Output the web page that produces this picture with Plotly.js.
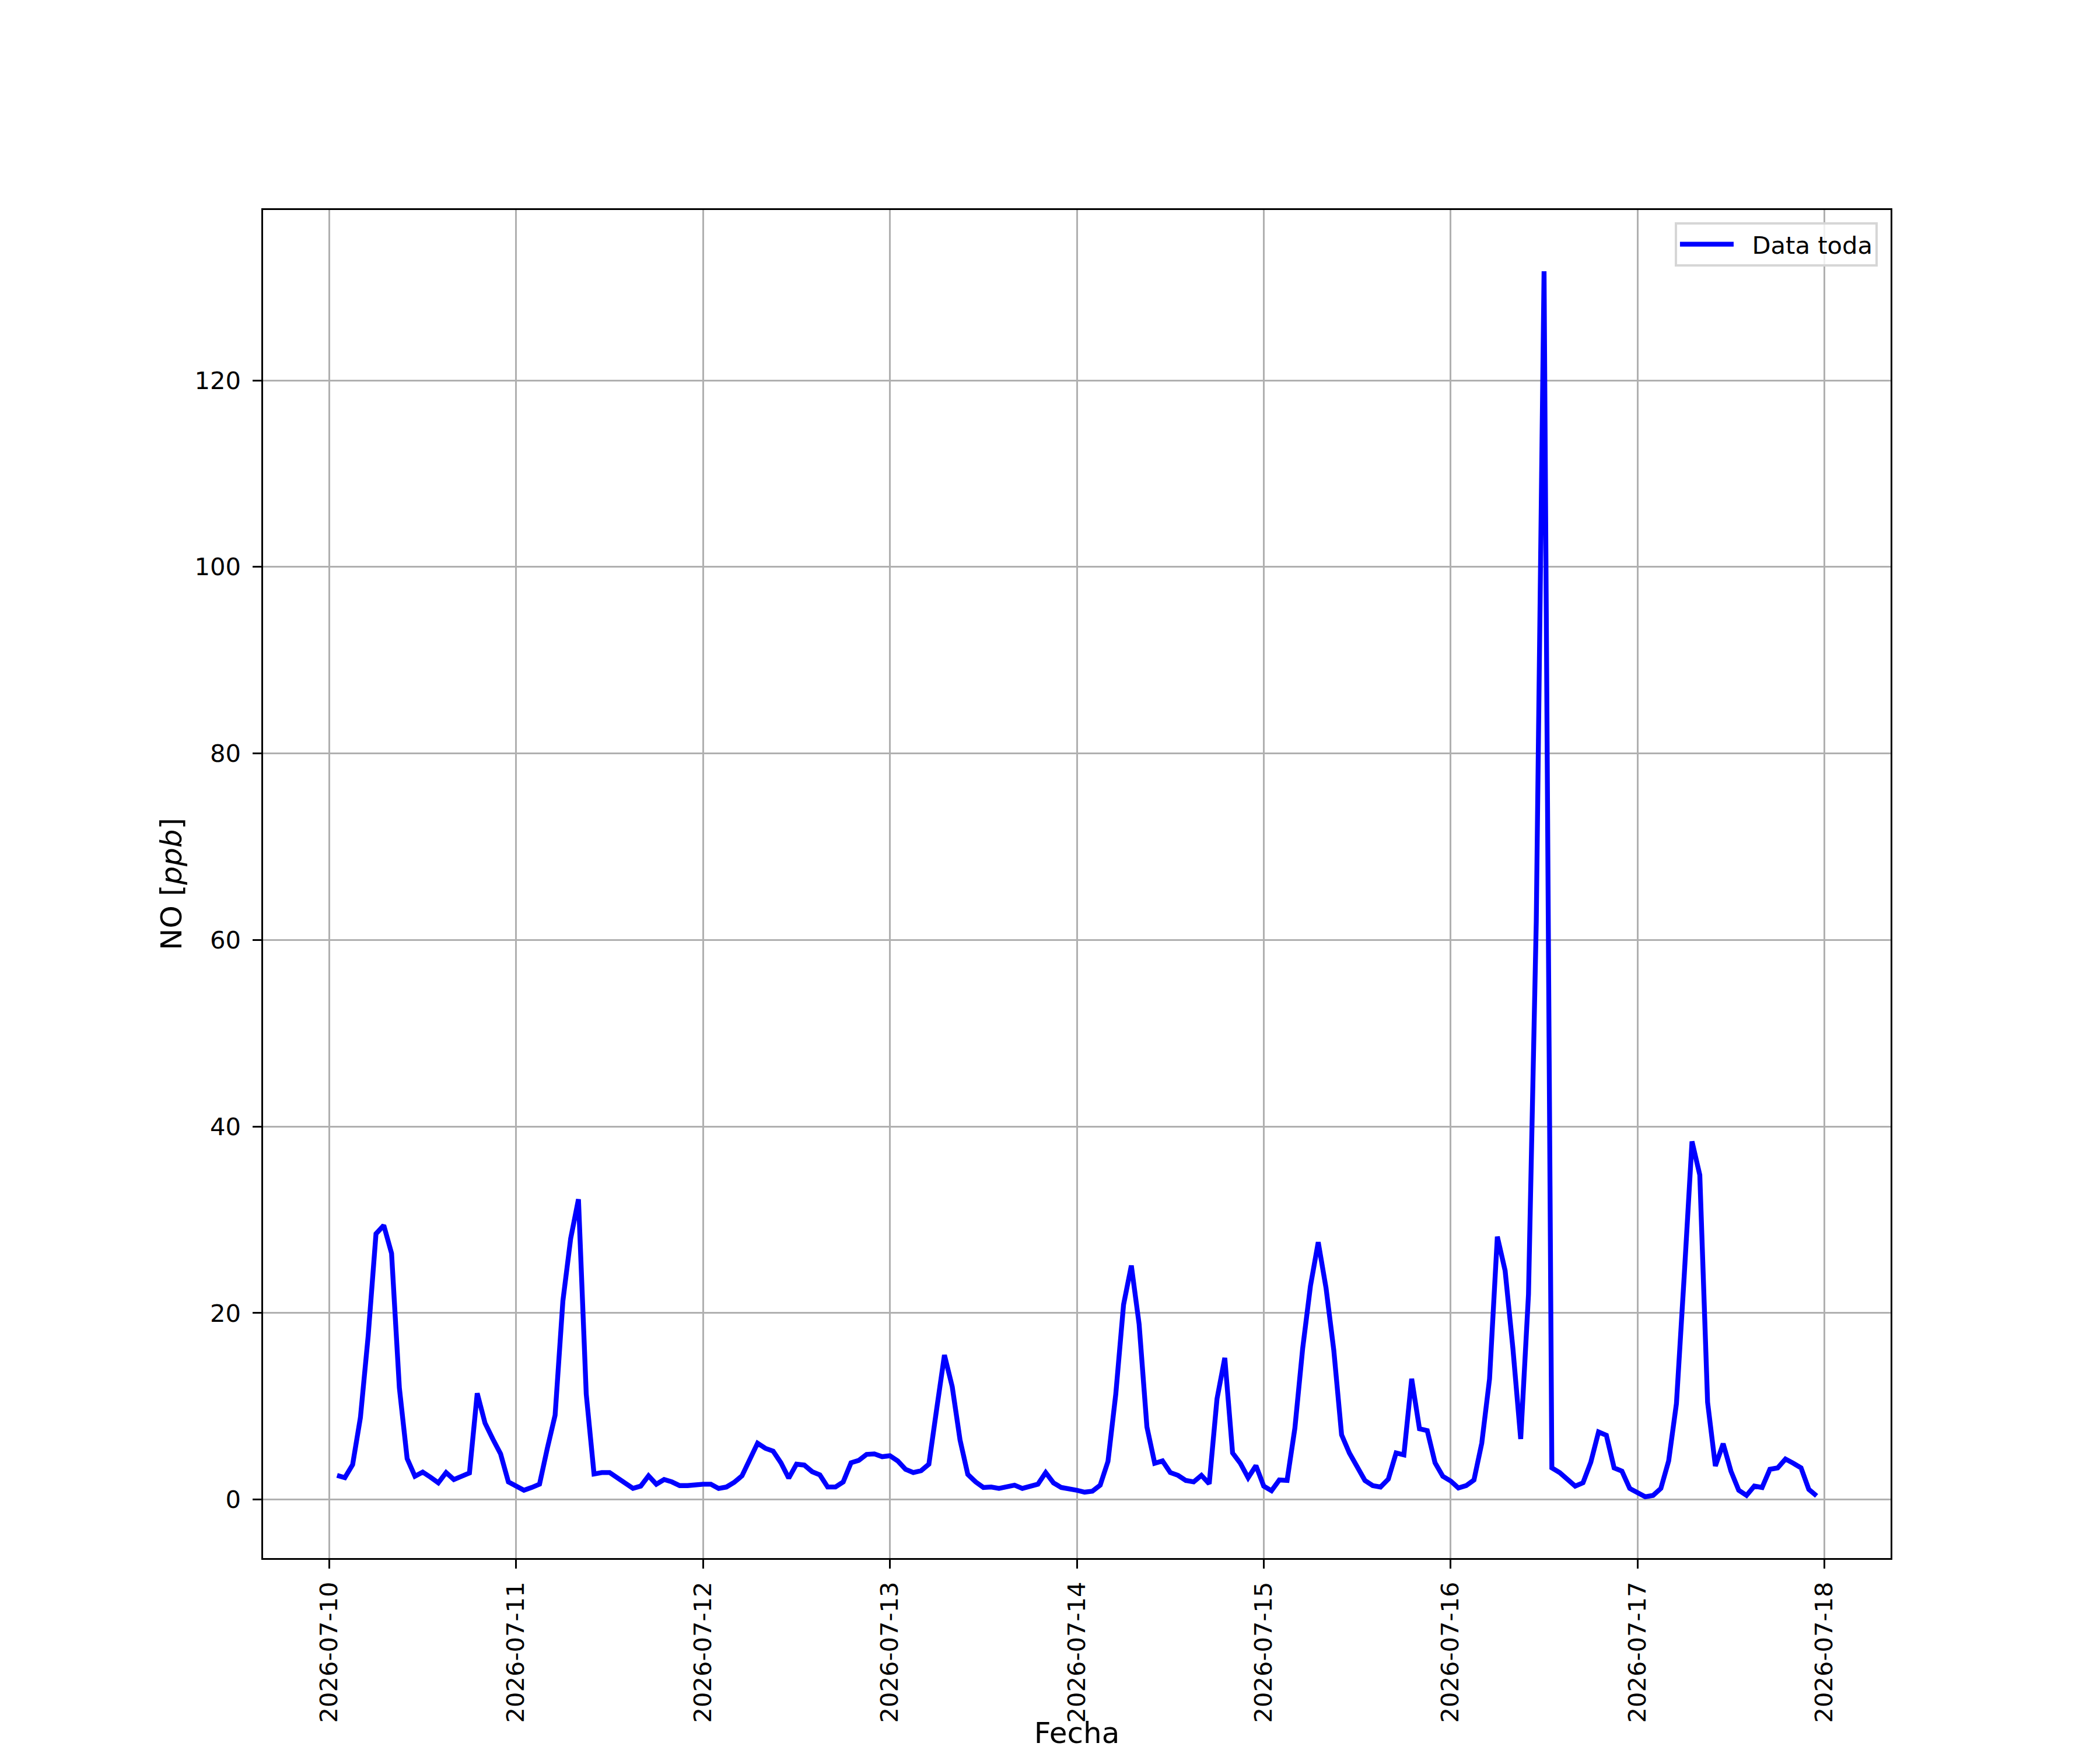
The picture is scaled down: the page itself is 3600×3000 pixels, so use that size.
<!DOCTYPE html>
<html>
<head>
<meta charset="utf-8">
<script src="https://cdn.plot.ly/plotly-3.0.1.min.js"></script>
<style>
  html, body { margin: 0; padding: 0; background: #ffffff; }
  #chart { width: 3600px; height: 3000px; }
</style>
</head>
<body>
<div id="chart"></div>
<script>
// Hourly NO readings [ppb], first reading 2026-07-10 01:00, one value per hour
const firstReading = '2026-07-10T01:00:00Z';
const no_0710 = [2.6, 2.35, 3.75, 8.8, 17.6, 28.5, 29.4, 26.4, 12.0, 4.4, 2.5, 2.95,
                 2.4, 1.8, 2.9, 2.15, 2.5, 2.85, 11.4, 8.2, 6.5, 4.9, 1.9];               // 01:00-23:00
const no_0711 = [1.4, 1.0, 1.3, 1.65, 5.5, 9.05, 21.3, 28.0, 32.2, 11.3, 2.75, 2.9,
                 2.9, 2.35, 1.9, 1.2, 1.45, 2.55, 1.65, 2.15, 1.9, 1.5, 1.5, 1.6];
const no_0712 = [1.65, 1.65, 1.2, 1.35, 1.85, 2.55, 4.45, 6.05, 5.5, 5.2, 3.95, 2.3,
                 3.8, 3.7, 3.0, 2.65, 1.35, 1.35, 1.9, 3.95, 4.2, 4.85, 4.9, 4.6];
const no_0713 = [4.7, 4.15, 3.25, 2.9, 3.1, 3.8, 9.7, 15.5, 12.1, 6.4, 2.7, 1.9,
                 1.3, 1.35, 1.2, 1.35, 1.55, 1.2, 1.45, 1.65, 2.9, 1.8, 1.3, 1.2];
const no_0714 = [1.0, 0.8, 0.9, 1.55, 4.1, 11.3, 20.9, 25.1, 18.8, 7.8, 3.9, 4.15,
                 2.9, 2.6, 2.05, 1.9, 2.6, 1.7, 10.8, 15.2, 5.0, 3.9, 2.35, 3.65];
const no_0715 = [1.45, 0.95, 2.1, 2.05, 7.65, 16.2, 22.9, 27.6, 22.7, 16.0, 6.95, 5.0,
                 3.45, 2.05, 1.5, 1.35, 2.2, 5.0, 4.8, 12.95, 7.6, 7.4, 3.95, 2.5];
const no_0716 = [2.0, 1.25, 1.5, 2.1, 6.05, 12.95, 28.2, 24.55, 16.2, 6.5, 22.0, 62.0,
                 131.7, 3.4, 2.9, 2.2, 1.45, 1.8, 4.0, 7.25, 6.9, 3.4, 3.05, 1.2];
const no_0717 = [0.75, 0.3, 0.45, 1.2, 4.15, 10.3, 24.0, 38.4, 34.8, 10.45, 3.6, 6.0,
                 3.05, 1.0, 0.45, 1.45, 1.3, 3.25, 3.4, 4.35, 3.9, 3.4, 1.1, 0.4];

const dayTicks = ['2026-07-10', '2026-07-11', '2026-07-12', '2026-07-13', '2026-07-14',
                  '2026-07-15', '2026-07-16', '2026-07-17', '2026-07-18'];
const yTicks = [0, 20, 40, 60, 80, 100, 120];
const seriesName = 'Data toda';
const xTitle = 'Fecha';
const yTitle = 'NO [<i>ppb</i>]';

// build series
const noValues = [].concat(no_0710, no_0711, no_0712, no_0713, no_0714, no_0715, no_0716, no_0717);
const t0 = Date.parse(firstReading);
const fmt = ms => new Date(ms).toISOString().slice(0, 16).replace('T', ' ');
const times = noValues.map((_, i) => fmt(t0 + i * 3600e3));

// matplotlib-like 5% margins on both axes
const tFirst = t0, tLast = t0 + (noValues.length - 1) * 3600e3;
const tPad = (tLast - tFirst) * 0.05;
const vMin = Math.min(...noValues), vMax = Math.max(...noValues);
const vPad = (vMax - vMin) * 0.05;

const FONT = 'DejaVu Sans, Liberation Sans, sans-serif';
const PX = 300 / 72; // points -> px at 300 dpi

const trace = {
  x: times,
  y: noValues,
  type: 'scatter',
  mode: 'lines',
  name: '\u00a0\u00a0' + seriesName,
  line: { color: '#0000ff', width: 2 * PX },
  showlegend: true
};

const axisCommon = {
  showline: true, linecolor: '#000000', linewidth: 0.8 * PX, mirror: true,
  ticks: 'outside', ticklen: 3.5 * PX, tickwidth: 0.8 * PX, tickcolor: '#000000',
  showgrid: true, gridcolor: '#b0b0b0', gridwidth: 0.8 * PX,
  zeroline: false,
  tickfont: { family: FONT, size: 10 * PX, color: '#000000' }
};

const layout = {
  width: 3600, height: 3000,
  paper_bgcolor: '#ffffff', plot_bgcolor: '#ffffff',
  margin: { l: 451, r: 359, t: 360, b: 329, pad: 0 },
  font: { family: FONT, size: 10 * PX, color: '#000000' },
  xaxis: Object.assign({}, axisCommon, {
    type: 'date',
    range: [fmt(tFirst - tPad), fmt(tLast + tPad)],
    tickmode: 'array', tickvals: dayTicks, ticktext: dayTicks,
    tickangle: -90,
    ticklabelstandoff: 6,
    title: { text: xTitle, font: { family: FONT, size: 12 * PX, color: '#000000' }, standoff: 26 }
  }),
  yaxis: Object.assign({}, axisCommon, {
    range: [vMin - vPad, vMax + vPad],
    tickmode: 'array', tickvals: yTicks, ticktext: yTicks.map(String),
    ticklabelstandoff: 12,
    title: { text: yTitle, font: { family: FONT, size: 12 * PX, color: '#000000' }, standoff: 6 }
  }),
  showlegend: true,
  legend: {
    x: 0.9921, y: 0.9909, xanchor: 'right', yanchor: 'top',
    bgcolor: 'rgba(255,255,255,0.8)', bordercolor: '#d6d6d6', borderwidth: 4,
    font: { family: FONT, size: 10 * PX, color: '#000000' },
    itemwidth: 92
  }
};

Plotly.newPlot('chart', [trace], layout, { displayModeBar: false, responsive: false });
</script>
</body>
</html>
